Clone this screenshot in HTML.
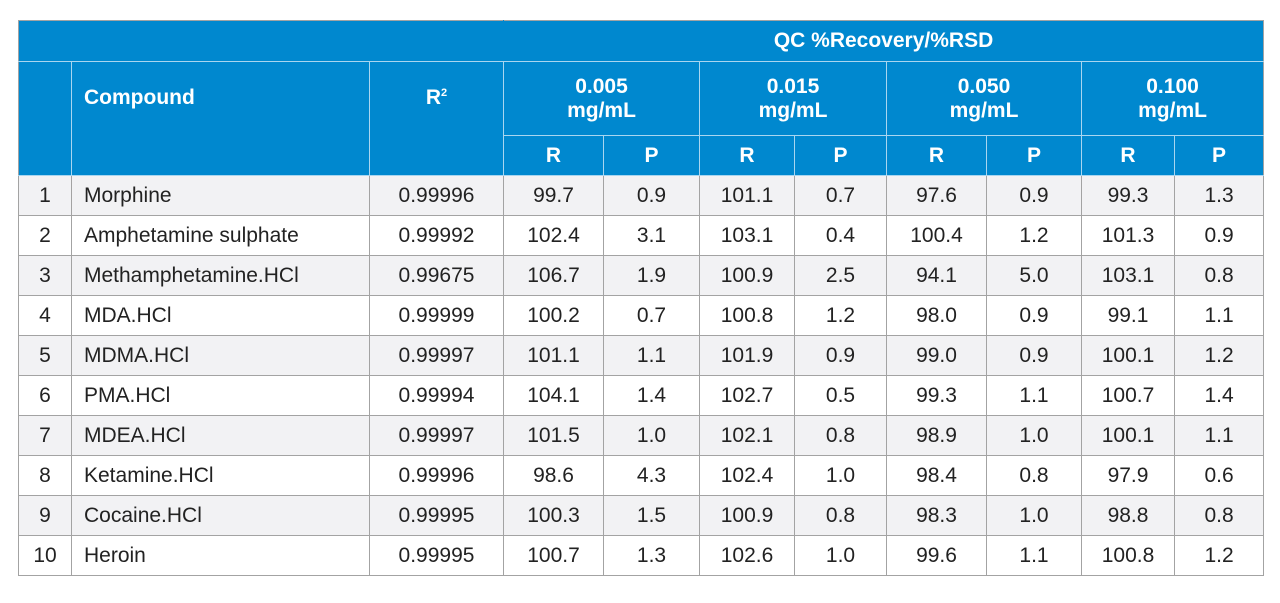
<!DOCTYPE html>
<html><head><meta charset="utf-8"><style>
body{margin:0;width:1280px;height:603px;background:#fff;overflow:hidden;font-family:"Liberation Sans",sans-serif;}
table{position:absolute;left:18px;top:20px;border-collapse:collapse;table-layout:fixed;width:1245px;}
th{background:#0088cf;color:#fff;font-weight:bold;font-size:21px;border:1.5px solid #a9d6f0;padding:0;}
td{border:1.5px solid #a3a3a3;font-size:21px;color:#222;text-align:center;padding:0;height:39px;}
td.name{text-align:left;padding-left:12px;}
tr.odd td{background:#f2f2f4;}
tr.h1 th{height:40px;border-bottom-color:#a9d6f0;}
.top{border-top-color:#a3a3a3;border-left-color:#a3a3a3;border-right-color:#a3a3a3;}
</style></head><body>
<table>
<colgroup><col style="width:53px"><col style="width:298px"><col style="width:134px"><col style="width:100px"><col style="width:96px"><col style="width:95px"><col style="width:92px"><col style="width:100px"><col style="width:95px"><col style="width:93px"><col style="width:89px"></colgroup>
<tr class="h1"><th colspan="3" style="border-right-color:#0088cf;border-top-color:#a3a3a3;border-left-color:#a3a3a3"></th><th colspan="8" style="border-left-color:#0088cf;border-top-color:#a3a3a3;border-right-color:#a3a3a3">QC %Recovery/%RSD</th></tr>
<tr style="height:74px"><th rowspan="2" style="border-left-color:#a3a3a3"></th><th rowspan="2" style="text-align:left;padding-left:12px;vertical-align:top;padding-top:24px">Compound</th><th rowspan="2" style="vertical-align:top;padding-top:24px">R<sup style="font-size:11px">2</sup></th><th colspan="2">0.005<br>mg/mL</th><th colspan="2">0.015<br>mg/mL</th><th colspan="2">0.050<br>mg/mL</th><th colspan="2" style="border-right-color:#a3a3a3">0.100<br>mg/mL</th></tr>
<tr style="height:40px"><th>R</th><th>P</th><th>R</th><th>P</th><th>R</th><th>P</th><th>R</th><th style="border-right-color:#a3a3a3">P</th></tr>
<tr class="odd"><td>1</td><td class="name">Morphine</td><td>0.99996</td><td>99.7</td><td>0.9</td><td>101.1</td><td>0.7</td><td>97.6</td><td>0.9</td><td>99.3</td><td>1.3</td></tr>
<tr><td>2</td><td class="name">Amphetamine sulphate</td><td>0.99992</td><td>102.4</td><td>3.1</td><td>103.1</td><td>0.4</td><td>100.4</td><td>1.2</td><td>101.3</td><td>0.9</td></tr>
<tr class="odd"><td>3</td><td class="name">Methamphetamine.HCl</td><td>0.99675</td><td>106.7</td><td>1.9</td><td>100.9</td><td>2.5</td><td>94.1</td><td>5.0</td><td>103.1</td><td>0.8</td></tr>
<tr><td>4</td><td class="name">MDA.HCl</td><td>0.99999</td><td>100.2</td><td>0.7</td><td>100.8</td><td>1.2</td><td>98.0</td><td>0.9</td><td>99.1</td><td>1.1</td></tr>
<tr class="odd"><td>5</td><td class="name">MDMA.HCl</td><td>0.99997</td><td>101.1</td><td>1.1</td><td>101.9</td><td>0.9</td><td>99.0</td><td>0.9</td><td>100.1</td><td>1.2</td></tr>
<tr><td>6</td><td class="name">PMA.HCl</td><td>0.99994</td><td>104.1</td><td>1.4</td><td>102.7</td><td>0.5</td><td>99.3</td><td>1.1</td><td>100.7</td><td>1.4</td></tr>
<tr class="odd"><td>7</td><td class="name">MDEA.HCl</td><td>0.99997</td><td>101.5</td><td>1.0</td><td>102.1</td><td>0.8</td><td>98.9</td><td>1.0</td><td>100.1</td><td>1.1</td></tr>
<tr><td>8</td><td class="name">Ketamine.HCl</td><td>0.99996</td><td>98.6</td><td>4.3</td><td>102.4</td><td>1.0</td><td>98.4</td><td>0.8</td><td>97.9</td><td>0.6</td></tr>
<tr class="odd"><td>9</td><td class="name">Cocaine.HCl</td><td>0.99995</td><td>100.3</td><td>1.5</td><td>100.9</td><td>0.8</td><td>98.3</td><td>1.0</td><td>98.8</td><td>0.8</td></tr>
<tr><td>10</td><td class="name">Heroin</td><td>0.99995</td><td>100.7</td><td>1.3</td><td>102.6</td><td>1.0</td><td>99.6</td><td>1.1</td><td>100.8</td><td>1.2</td></tr>
</table>
</body></html>
